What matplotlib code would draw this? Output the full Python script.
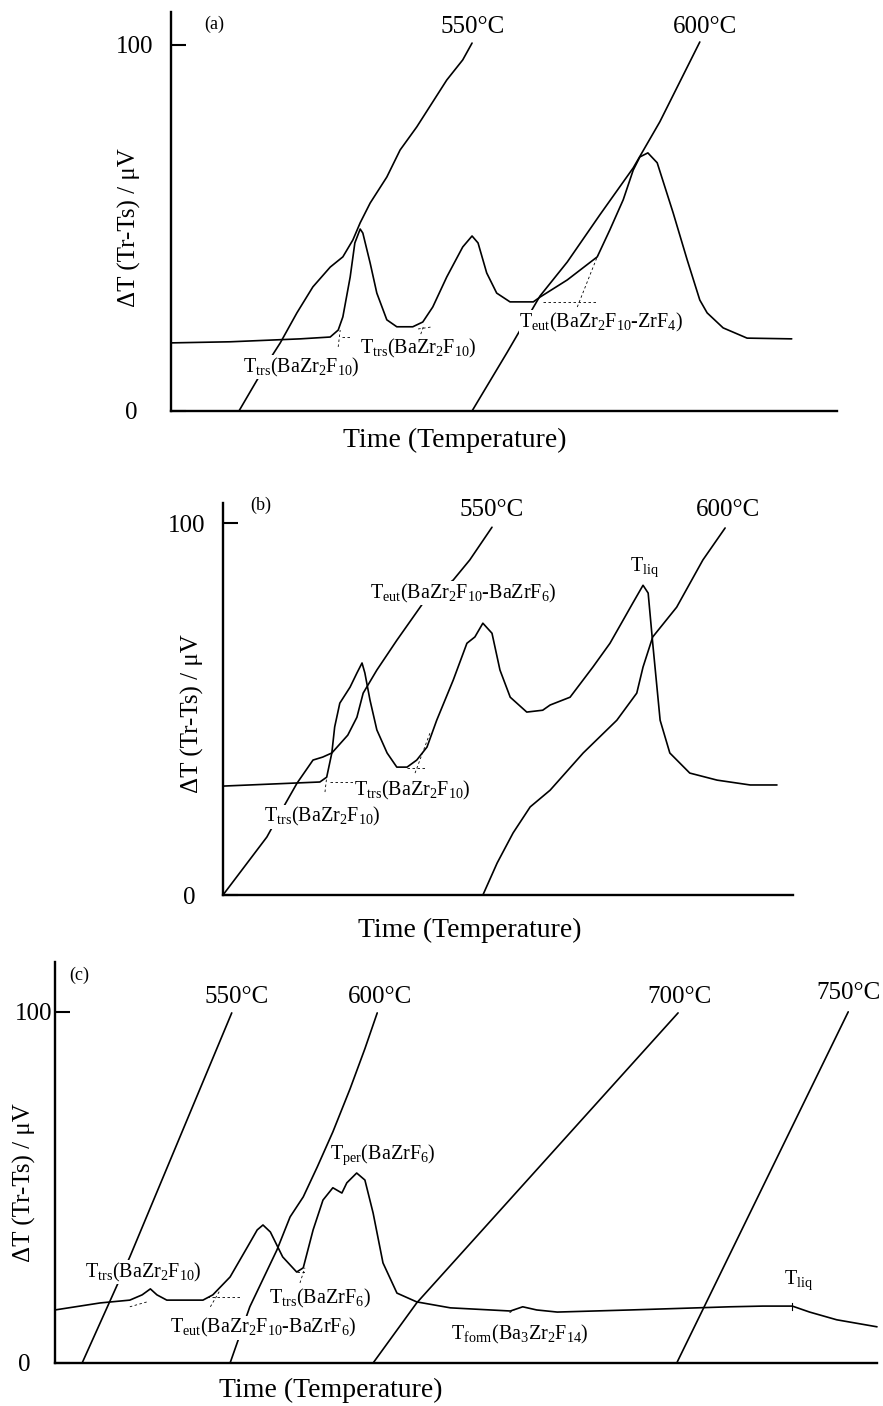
import matplotlib
matplotlib.use("Agg")
import matplotlib.pyplot as plt

plt.rcParams['font.family'] = ['Liberation Serif', 'DejaVu Serif']
plt.rcParams['mathtext.fontset'] = 'custom'
plt.rcParams['mathtext.rm'] = 'Liberation Serif'
plt.rcParams['mathtext.it'] = 'Liberation Serif:italic'

# ---- panel (a) ----
a_dta_x = [0.0, 8.9, 19.4, 23.9, 25.1, 25.8, 26.9, 27.6, 28.4, 28.8, 29.9, 30.9, 32.4, 33.9,
           36.3, 37.8, 39.3, 41.4, 43.8, 45.2, 46.1, 47.4, 48.9, 50.9, 54.4, 55.4, 59.5,
           64.0, 65.9, 67.9, 69.4, 70.4, 71.6, 73.0, 75.4, 77.5, 79.4, 80.5, 82.9, 86.5, 93.2]
a_dta_y = [18.6, 18.9, 19.7, 20.2, 22.1, 25.7, 36.6, 45.9, 49.7, 48.6, 40.4, 32.2, 24.9, 23.0,
           23.0, 24.3, 28.4, 36.6, 44.8, 47.8, 45.9, 37.7, 32.2, 29.8, 29.8, 31.1, 35.8,
           42.1, 49.5, 57.7, 65.8, 69.4, 70.5, 67.8, 54.1, 41.3, 30.3, 26.8, 22.7, 19.9, 19.7]
a_t550_x = [10.2, 13.8, 16.4, 18.9, 21.3, 23.9, 25.8, 27.3, 28.4, 29.9, 32.4, 34.4, 36.9, 41.4, 43.8, 45.2]
a_t550_y = [0.0, 11.2, 18.6, 26.8, 33.9, 39.3, 42.1, 46.7, 51.4, 56.8, 63.9, 71.3, 77.6, 90.4, 95.9, 100.5]
a_t600_x = [45.2, 50.5, 55.4, 59.5, 64.4, 69.4, 73.4, 79.4]
a_t600_y = [0.0, 16.1, 31.4, 40.7, 53.6, 66.4, 79.0, 100.8]
a_dash = [([25.7, 27.2], [20.2, 20.2]), ([25.1, 25.4], [17.5, 22.1]),
          ([37.1, 39.3], [22.4, 23.0]), ([37.5, 38.0], [21.0, 23.6]),
          ([55.9, 64.0], [29.8, 29.8]), ([61.0, 64.1], [28.4, 42.6])]

# ---- panel (b) ----
b_dta_x = [0.0, 17.0, 18.2, 19.1, 19.6, 20.5, 22.3, 23.5, 24.4, 24.9, 25.8, 27.0, 28.8, 30.5,
           32.3, 34.0, 35.8, 37.5, 40.4, 42.8, 44.2, 45.6, 47.2, 48.6, 50.4, 53.3, 56.1, 57.4,
           60.9, 64.9, 67.9, 70.2, 71.9, 73.7, 74.6, 75.4, 76.7, 78.4, 81.9, 86.7, 92.5, 97.2]
b_dta_y = [29.3, 30.4, 31.7, 38.2, 45.2, 51.6, 55.9, 59.7, 62.4, 59.7, 52.4, 44.4, 38.2, 34.4,
           34.4, 36.3, 39.8, 47.0, 57.8, 67.7, 69.4, 73.1, 70.4, 60.5, 53.2, 49.2, 49.7, 51.1,
           53.2, 61.3, 67.7, 73.9, 78.5, 83.3, 81.2, 67.7, 47.0, 38.2, 32.8, 30.9, 29.6, 29.6]
b_t550_x = [0.0, 7.7, 10.0, 13.0, 15.8, 17.5, 19.1, 21.9, 23.5, 24.6, 27.0, 30.5, 35.1, 40.4, 43.3, 47.2]
b_t550_y = [0.0, 15.6, 22.0, 30.1, 36.3, 37.1, 38.2, 43.0, 47.8, 54.3, 60.5, 68.5, 78.5, 84.7, 90.1, 98.9]
b_t600_x = [45.6, 48.1, 50.9, 53.9, 57.4, 63.2, 69.1, 72.6, 73.7, 75.4, 79.6, 84.2, 88.1]
b_t600_y = [0.0, 8.6, 16.7, 23.7, 28.2, 38.2, 47.0, 54.3, 61.3, 69.4, 77.4, 90.1, 98.7]
b_dash = [([18.8, 23.2], [30.4, 30.4]), ([17.9, 18.2], [27.7, 31.7]),
          ([32.3, 35.8], [34.1, 34.1]), ([33.7, 36.3], [32.8, 43.5])]

# ---- panel (c) ----
c_dta_x = [0.0, 5.5, 9.1, 10.6, 11.6, 12.4, 13.6, 18.0, 19.2, 21.3, 23.4, 24.6, 25.3, 26.2,
           27.7, 29.4, 30.2, 31.4, 32.6, 33.8, 34.9, 35.5, 36.7, 37.7, 38.7, 39.9, 41.6, 44.0,
           48.1, 55.4, 56.9, 58.6, 61.1, 70.0, 78.1, 82.1, 86.1, 89.7, 91.8, 95.1, 100.0]
c_dta_y = [15.1, 17.1, 17.9, 19.4, 21.1, 19.4, 17.9, 17.9, 19.4, 24.5, 33.0, 37.9, 39.3, 37.3,
           30.2, 25.9, 27.1, 37.9, 46.4, 49.9, 48.4, 51.3, 54.1, 52.1, 42.7, 28.5, 19.9, 17.4,
           15.7, 14.8, 16.0, 15.1, 14.5, 15.1, 15.7, 16.0, 16.2, 16.2, 14.5, 12.3, 10.3]
c_t550_x = [3.3, 9.1, 21.5]
c_t550_y = [0.0, 30.2, 99.7]
c_t600_x = [21.3, 23.7, 27.0, 28.6, 30.2, 31.9, 33.8, 35.9, 37.7, 39.2]
c_t600_y = [0.0, 16.0, 32.2, 41.6, 47.3, 55.8, 65.8, 78.1, 89.5, 99.7]
c_t700_x = [38.7, 44.0, 75.8]
c_t700_y = [0.0, 17.1, 99.7]
c_t750_x = [75.7, 96.5]
c_t750_y = [0.3, 100.0]
c_dash = [([9.1, 11.2], [16.0, 17.4]), ([18.5, 22.5], [18.8, 18.8]), ([18.9, 20.1], [16.0, 20.8]),
          ([29.4, 30.7], [25.9, 25.9]), ([29.8, 30.4], [22.8, 27.1]), ([55.3, 55.9], [14.3, 15.2])]

fig = plt.figure(figsize=(8.83, 14.06), dpi=100)

lab = dict(fontsize=14.5, ha='center', va='center', zorder=4,
           bbox=dict(facecolor='white', edgecolor='none', pad=0.3))
big = dict(fontsize=18, ha='center', va='center')


def setup(ax, ytop, ylab, xlab, pad100, pad0):
    ax.set_xlim(0, 100)
    ax.set_ylim(0, ytop)
    for s in ['top', 'right']:
        ax.spines[s].set_visible(False)
    for s in ['left', 'bottom']:
        ax.spines[s].set_linewidth(1.7)
    ax.set_xticks([])
    ax.set_yticks([0, 100])
    ax.set_yticklabels(['0', '100'], fontsize=18)
    ax.tick_params(axis='y', direction='in', length=11, width=1.5)
    ticks = ax.yaxis.get_major_ticks()
    ticks[0].set_pad(pad0)
    ticks[1].set_pad(pad100)
    ax.set_ylabel('ΔT (Tr-Ts) / μV', fontsize=18)
    ax.yaxis.set_label_coords(*ylab)
    ax.yaxis.label.set_va('center')
    ax.set_xlabel('Time (Temperature)', fontsize=20)
    ax.xaxis.set_label_coords(*xlab)
    ax.xaxis.label.set_va('center')
    ax.patch.set_alpha(0)


def draw(ax, curves, dashes):
    for x, y in curves:
        ax.plot(x, y, color='black', lw=1.2, clip_on=False,
                solid_joinstyle='round', solid_capstyle='round')
    for x, y in dashes:
        ax.plot(x, y, color='black', lw=0.6, ls=(0, (3, 3)))


# (a)
ax = fig.add_axes([0.1937, 0.7077, 0.7542, 0.2838])
setup(ax, 109.0, (-0.062, 0.46), (0.426, -0.075), 13, 24)
draw(ax, [(a_dta_x, a_dta_y), (a_t550_x, a_t550_y), (a_t600_x, a_t600_y)], a_dash)
ax.text(6.5, 105.7, '(a)', fontsize=13, ha='center', va='center')
ax.text(45.3, 104.9, '550°C', **big)
ax.text(80.2, 104.9, '600°C', **big)
ax.text(19.5, 12.0, r'T$_{\rm trs}$(BaZr$_2$F$_{10}$)', **lab)
ax.text(37.1, 17.2, r'T$_{\rm trs}$(BaZr$_2$F$_{10}$)', **lab)
ax.text(64.6, 24.3, r'T$_{\rm eut}$(BaZr$_2$F$_{10}$-ZrF$_4$)', **lab)

# (b)
ax = fig.add_axes([0.2525, 0.3634, 0.6455, 0.2788])
setup(ax, 105.4, (-0.053, 0.464), (0.433, -0.09), 13, 20)
draw(ax, [(b_dta_x, b_dta_y), (b_t550_x, b_t550_y), (b_t600_x, b_t600_y)], b_dash)
ax.text(6.7, 104.8, '(b)', fontsize=13, ha='center', va='center')
ax.text(47.2, 103.5, '550°C', **big)
ax.text(88.6, 103.5, '600°C', **big)
ax.text(42.1, 81.2, r'T$_{\rm eut}$(BaZr$_2$F$_{10}$-BaZrF$_6$)', **lab)
ax.text(74.0, 88.2, r'T$_{\rm liq}$', **lab)
ax.text(17.4, 21.0, r'T$_{\rm trs}$(BaZr$_2$F$_{10}$)', **lab)
ax.text(33.3, 28.2, r'T$_{\rm trs}$(BaZr$_2$F$_{10}$)', **lab)

# (c)
ax = fig.add_axes([0.0623, 0.0306, 0.9309, 0.2852])
setup(ax, 114.2, (-0.037, 0.449), (0.336, -0.068), 2, 18)
draw(ax, [(c_dta_x, c_dta_y), (c_t550_x, c_t550_y), (c_t600_x, c_t600_y),
          (c_t700_x, c_t700_y), (c_t750_x, c_t750_y)], c_dash)
ax.text(3.0, 110.5, '(c)', fontsize=13, ha='center', va='center')
ax.text(22.1, 104.3, '550°C', **big)
ax.text(39.5, 104.3, '600°C', **big)
ax.text(76.0, 104.3, '700°C', **big)
ax.text(96.5, 105.4, '750°C', **big)
ax.text(10.7, 25.9, r'T$_{\rm trs}$(BaZr$_2$F$_{10}$)', **lab)
ax.text(25.3, 10.0, r'T$_{\rm eut}$(BaZr$_2$F$_{10}$-BaZrF$_6$)', **lab)
ax.text(32.2, 18.5, r'T$_{\rm trs}$(BaZrF$_6$)', **lab)
ax.text(39.9, 59.3, r'T$_{\rm per}$(BaZrF$_6$)', **lab)
ax.text(56.6, 8.0, r'T$_{\rm form}$(Ba$_3$Zr$_2$F$_{14}$)', **lab)
ax.text(90.4, 23.6, r'T$_{\rm liq}$', **lab)
ax.plot([89.7, 89.7], [15.2, 17.2], color='black', lw=0.8)

fig.savefig('out.png', dpi=100)
